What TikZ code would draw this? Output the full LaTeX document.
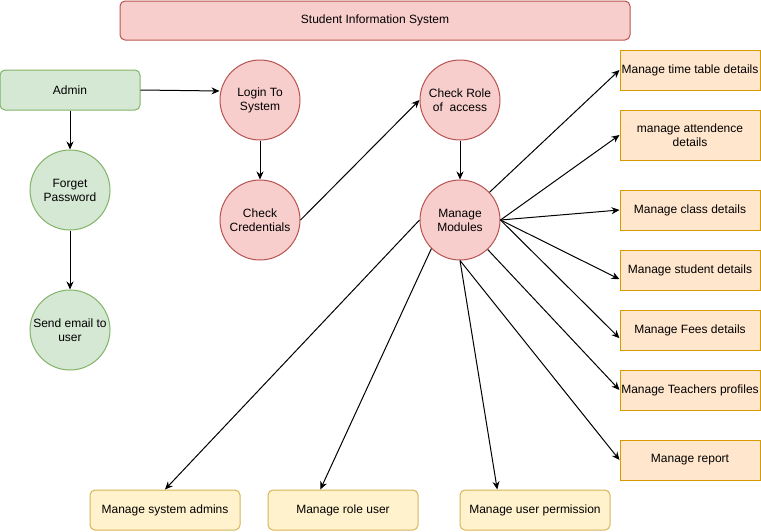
\documentclass[tikz,border=0pt]{standalone}
\usepackage{fontspec}
\setmainfont{Liberation Sans}
\usetikzlibrary{shapes,arrows.meta,positioning,calc}
\definecolor{sisred}{HTML}{F8CECC}
\definecolor{sisredline}{HTML}{B85450}
\definecolor{sisgreen}{HTML}{D5E8D4}
\definecolor{sisgreenline}{HTML}{82B366}
\definecolor{sisorange}{HTML}{FFE6CC}
\definecolor{sisorangeline}{HTML}{D79B00}
\definecolor{sisyellow}{HTML}{FFF2CC}
\definecolor{sisyellowline}{HTML}{D6B656}

\begin{document}
\begin{tikzpicture}[x=1pt, y=-1pt, line width=1pt, font=\fontsize{12}{14}\selectfont,
    >={Stealth[length=8pt,width=7pt]},
    greenbox/.style={draw=sisgreenline, fill=sisgreen, rounded corners=5pt, minimum width=140pt, minimum height=40pt, inner sep=0pt},
    greencircle/.style={draw=sisgreenline, fill=sisgreen, circle, minimum size=80pt, inner sep=0pt, align=center},
    redcircle/.style={draw=sisredline, fill=sisred, circle, minimum size=80pt, inner sep=0pt, align=center},
    modbox/.style={draw=sisorangeline, fill=sisorange, minimum width=140pt, minimum height=40pt, inner sep=0pt, align=center},
    userbox/.style={draw=sisyellowline, fill=sisyellow, rounded corners=5pt, minimum width=150pt, minimum height=40pt, inner sep=0pt}]
    \useasboundingbox (0,0) rectangle (761,531);

    % Title
    \node[draw=sisredline, fill=sisred, rounded corners=5pt, minimum width=510pt, minimum height=39pt] (title) at (375,20.5) {Student Information System};

    % Admin side
    \node[greenbox] (admin) at (70,90) {Admin};
    \node[greencircle] (forget) at (70,190) {Forget\\Password};
    \node[greencircle] (email) at (70,330) {Send email to\\user};
    \draw[->] (admin) -- (forget);
    \draw[->] (forget) -- (email);

    % Login flow
    \node[redcircle] (login) at (260,100) {Login To\\System};
    \node[redcircle] (cred) at (260,220) {Check\\Credentials};
    \node[redcircle] (role) at (460,100) {Check Role\\of~~access};
    \node[redcircle] (mod) at (460,220) {Manage\\Modules};
    \draw[->] (admin.east) -- ($(login.west |- admin.east)+(0,1)$);
    \draw[->] (login) -- (cred);
    \draw[->] (cred.east) -- (role.west);
    \draw[->] (role) -- (mod);

    % Modules
    \node[modbox] (timetable) at (690,70) {Manage time table details};
    \node[modbox, minimum height=50pt] (attend) at (690,135) {manage attendence\\details};
    \node[modbox] (class) at (690,210) {Manage class details};
    \node[modbox] (student) at (690,270) {Manage student details};
    \node[modbox] (fees) at (690,330) {Manage Fees details};
    \node[modbox] (teachers) at (690,390) {Manage Teachers profiles};
    \node[modbox] (report) at (690,460) {Manage report};
    \draw[->] (mod) -- (timetable.west);
    \draw[->] (mod.east) -- (attend.west);
    \draw[->] (mod.east) -- (class.west);
    \draw[->] (mod.east) -- ($(student.west)!0.45!(student.south west)$);
    \draw[->] (mod.east) -- ($(fees.west)!0.4!(fees.south west)$);
    \draw[->] (mod) -- (teachers.west);
    \draw[->] (mod.south) -- (report.west);

    % Users
    \node[userbox] (sysadmin) at (165,510) {Manage system admins};
    \node[userbox] (roleuser) at (343,510) {Manage role user};
    \node[userbox] (perm) at (535,510) {Manage user permission};
    \draw[->] (mod.west) -- (sysadmin.north);
    \draw[->] (mod.south west) -- ($(roleuser.north west)!0.35!(roleuser.north east)$);
    \draw[->] (mod.south) -- ($(perm.north west)!0.25!(perm.north east)$);
\end{tikzpicture}
\end{document}
